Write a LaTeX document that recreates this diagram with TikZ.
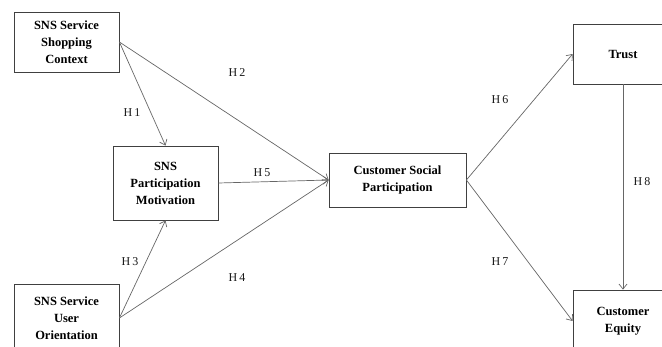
\documentclass[tikz,border=0pt]{standalone}
\usepackage{fontspec}
\setmainfont{Liberation Serif}
\usetikzlibrary{arrows.meta, positioning}

\begin{document}
\begin{tikzpicture}[
    x=1pt, y=-1pt,
    box/.style={rectangle, draw=black!75, fill=white, line width=0.8pt, inner sep=2pt, align=center, font=\fontsize{12.5}{17}\selectfont\bfseries},
    hyp/.style={font=\fontsize{12}{14}\selectfont, text=black!90},
    arrow/.style={-{Straight Barb[length=5pt, width=8pt]}, line width=0.7pt, draw=black!60}
]
    \useasboundingbox (0,0) rectangle (662,346);
    \clip (0,0) rectangle (662,346);

    % ANTECEDENTS
    \node (ctx) [box, minimum width=105pt, minimum height=60pt] at (66.5,42) {SNS Service\\ Shopping\\ Context};
    \node (ori) [box, minimum width=105pt, minimum height=68pt] at (66.5,318) {SNS Service\\ User\\ Orientation};

    % MEDIATOR
    \node (mot) [box, minimum width=105pt, minimum height=74pt] at (165.5,183) {SNS\\ Participation\\ Motivation};

    % PARTICIPATION
    \node (csp) [box, minimum width=137pt, minimum height=54pt] at (397.5,180) {Customer Social\\ Participation};

    % OUTCOMES
    \node (tru) [box, minimum width=100pt, minimum height=60pt] at (623,54) {Trust};
    \node (equ) [box, minimum width=100pt, minimum height=62pt] at (623,321) {Customer\\ Equity};

    % HYPOTHESIS PATHS
    \draw [arrow] (ctx.east) -- (mot.north);
    \draw [arrow] (ctx.east) -- (csp.west);
    \draw [arrow] (ori.east) -- (mot.south);
    \draw [arrow] (ori.east) -- (csp.west);
    \draw [arrow] (mot.east) -- (csp.west);
    \draw [arrow] (csp.east) -- (tru.west);
    \draw [arrow] (csp.east) -- (equ.west);
    \draw [arrow] (tru.south) -- (equ.north);

    % LABELS
    \node (h1) [hyp] at (132,113) {H\,1};
    \node (h2) [hyp] at (237,73) {H\,2};
    \node (h3) [hyp] at (130,262) {H\,3};
    \node (h4) [hyp] at (237,278) {H\,4};
    \node (h5) [hyp] at (262,173) {H\,5};
    \node (h6) [hyp] at (500,100) {H\,6};
    \node (h7) [hyp] at (500,262) {H\,7};
    \node (h8) [hyp] at (642,182) {H\,8};

\end{tikzpicture}
\end{document}
